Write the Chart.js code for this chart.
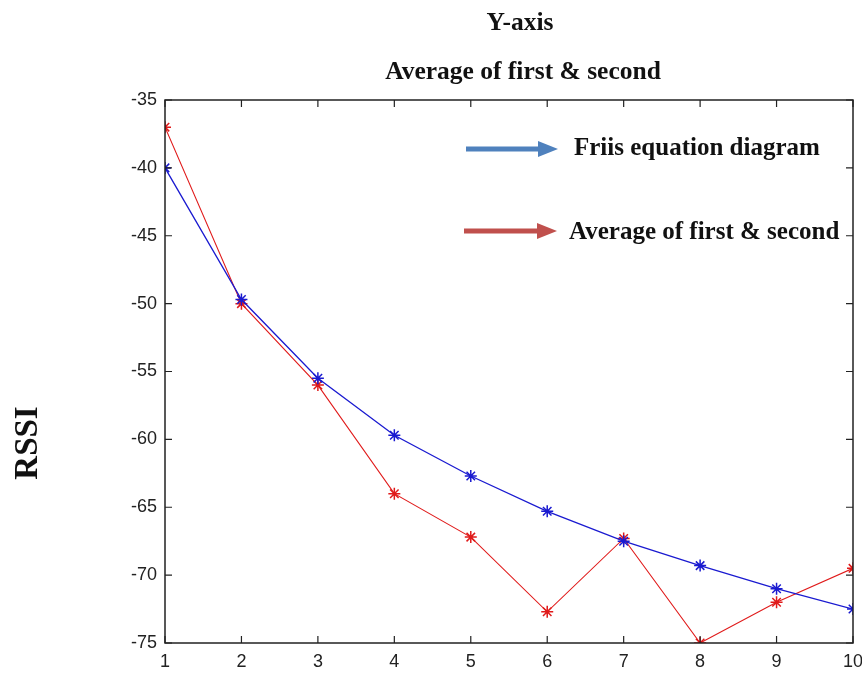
<!DOCTYPE html>
<html>
<head>
<meta charset="utf-8">
<script src="https://cdn.jsdelivr.net/npm/chart.js@4/dist/chart.umd.min.js"></script>
<style>
    html, body { margin: 0; padding: 0; background: #fff; }
    #wrap { width: 862px; height: 673px; }
</style>
</head>
<body>
<div id="wrap"><canvas id="grafico" width="862" height="673"></canvas></div>
<script>
const distancias = [1, 2, 3, 4, 5, 6, 7, 8, 9, 10];
const friis = [-40, -49.7, -55.5, -59.7, -62.7, -65.3, -67.5, -69.3, -71, -72.5];
const promedio = [-37, -50, -56, -64, -67.2, -72.7, -67.3, -75, -72, -69.5];
const yTicks = [-35, -40, -45, -50, -55, -60, -65, -70, -75];
const tituloLineas = ['Y-axis', 'Average of first & second'];
const leyenda = ['Friis equation diagram', 'Average of first & second'];
const ejeY = 'RSSI';

// dibuja titulos, leyenda con flechas, marco y ticks hacia adentro
const decoracion = {
    id: 'decoracion',
    afterDraw(chart) {
        const ctx = chart.ctx;
        const a = chart.chartArea;
        const xs = chart.scales.x, ys = chart.scales.y;
        ctx.save();

        // marco
        ctx.strokeStyle = '#222';
        ctx.lineWidth = 1.5;
        ctx.strokeRect(a.left, a.top, a.right - a.left, a.bottom - a.top);

        // ticks hacia adentro
        ctx.lineWidth = 1.2;
        ctx.beginPath();
        distancias.forEach(v => {
            const px = xs.getPixelForValue(v);
            ctx.moveTo(px, a.bottom); ctx.lineTo(px, a.bottom - 7);
            ctx.moveTo(px, a.top); ctx.lineTo(px, a.top + 7);
        });
        yTicks.forEach(v => {
            const py = ys.getPixelForValue(v);
            ctx.moveTo(a.left, py); ctx.lineTo(a.left + 7, py);
            ctx.moveTo(a.right, py); ctx.lineTo(a.right - 7, py);
        });
        ctx.stroke();

        // titulos
        ctx.fillStyle = '#111';
        ctx.textAlign = 'center';
        ctx.textBaseline = 'middle';
        ctx.font = 'bold 25.5px "Liberation Serif", serif';
        ctx.fillText(tituloLineas[0], 520, 23);
        ctx.fillText(tituloLineas[1], 523, 72);

        // etiqueta eje Y
        ctx.save();
        ctx.translate(28, 443);
        ctx.rotate(-Math.PI / 2);
        ctx.font = 'bold 33px "Liberation Serif", serif';
        ctx.fillText(ejeY, 0, 0);
        ctx.restore();

        // leyenda con flechas
        const flecha = (x1, x2, y, color) => {
            ctx.fillStyle = color;
            ctx.fillRect(x1, y - 2.5, x2 - x1 - 18, 5);
            ctx.beginPath();
            ctx.moveTo(x2 - 20, y - 8);
            ctx.lineTo(x2, y);
            ctx.lineTo(x2 - 20, y + 8);
            ctx.closePath();
            ctx.fill();
        };
        flecha(466, 558, 149, '#4f81bd');
        flecha(464, 557, 231, '#c0504d');
        ctx.fillStyle = '#111';
        ctx.textAlign = 'left';
        ctx.font = 'bold 25px "Liberation Serif", serif';
        ctx.fillText(leyenda[0], 574, 149);
        ctx.fillText(leyenda[1], 569, 233);

        ctx.restore();
    }
};

const ctx = document.getElementById('grafico').getContext('2d');
new Chart(ctx, {
    type: 'line',
    data: {
        labels: distancias,
        datasets: [
            {
                label: leyenda[0],
                data: distancias.map((d, i) => ({ x: d, y: friis[i] })),
                borderColor: '#1a1ad0',
                backgroundColor: '#1a1ad0',
                borderWidth: 1.3,
                pointStyle: 'star',
                pointRadius: 6,
                pointBorderWidth: 1.5,
                tension: 0
            },
            {
                label: leyenda[1],
                data: distancias.map((d, i) => ({ x: d, y: promedio[i] })),
                borderColor: '#e01a1a',
                backgroundColor: '#e01a1a',
                borderWidth: 1.1,
                pointStyle: 'star',
                pointRadius: 6,
                pointBorderWidth: 1.5,
                tension: 0
            }
        ]
    },
    options: {
        responsive: false,
        animation: false,
        layout: { padding: { top: 100, right: 9, left: 0, bottom: 0 } },
        plugins: {
            legend: { display: false },
            title: { display: false },
            tooltip: { enabled: false }
        },
        scales: {
            x: {
                type: 'linear',
                min: 1,
                max: 10,
                afterFit: s => { s.height = 30; s.paddingRight = 0; s.paddingLeft = 0; },
                afterBuildTicks: s => { s.ticks = distancias.map(v => ({ value: v })); },
                grid: { display: false, drawTicks: false },
                border: { display: false },
                ticks: {
                    padding: 8,
                    color: '#222',
                    font: { family: '"Liberation Sans", Arial, sans-serif', size: 18 },
                    maxRotation: 0
                }
            },
            y: {
                min: -75,
                max: -35,
                afterFit: s => { s.width = 165; s.paddingTop = 0; s.paddingBottom = 0; },
                afterBuildTicks: s => { s.ticks = yTicks.map(v => ({ value: v })); },
                grid: { display: false, drawTicks: false },
                border: { display: false },
                ticks: {
                    padding: 8,
                    color: '#222',
                    font: { family: '"Liberation Sans", Arial, sans-serif', size: 18 }
                }
            }
        }
    },
    plugins: [decoracion]
});
</script>
</body>
</html>
